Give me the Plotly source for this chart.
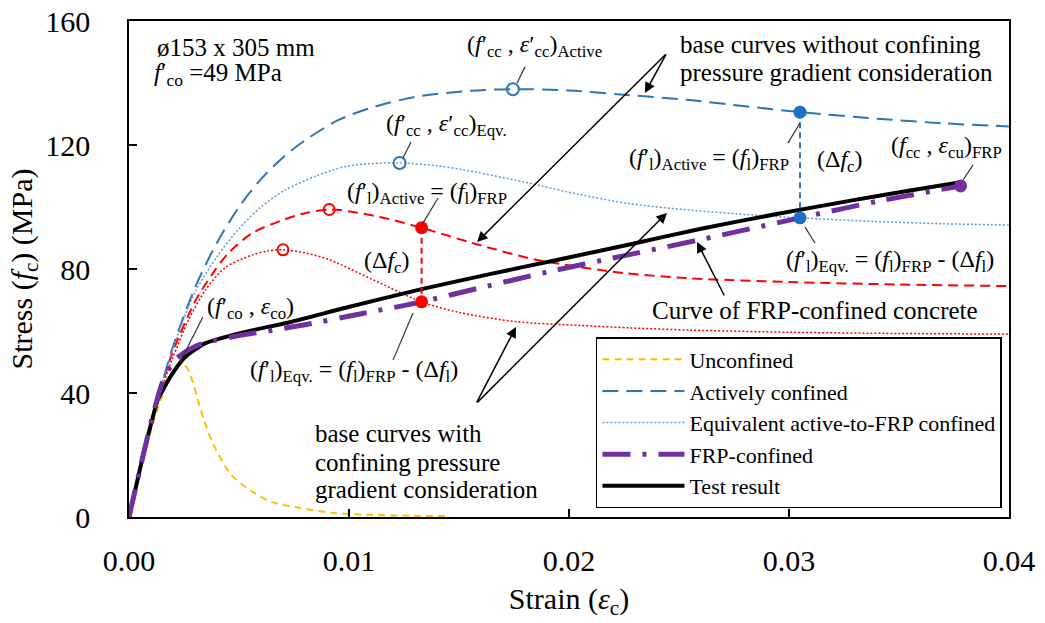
import plotly.graph_objects as go

# ---- stress-strain data (strain, stress in MPa) ----
unconf_strain = [0, 0.0005, 0.001, 0.0015, 0.002, 0.0023, 0.0026, 0.0029, 0.0031, 0.0034, 0.0038,
                 0.0046, 0.0055, 0.0065, 0.0078, 0.0093, 0.011, 0.0128, 0.0146]
unconf_stress = [0, 14.5, 28, 39, 47, 49.3, 48.5, 43.5, 38.5, 31.5, 24, 14, 8.7, 4.8, 2.9, 1.3, 0.7, 0.4, 0.3]

active_strain = [0, 0.0005, 0.001, 0.0015, 0.002, 0.003, 0.004, 0.005, 0.006, 0.007, 0.008, 0.0095,
                 0.011, 0.013, 0.0155, 0.01745, 0.020, 0.0225, 0.0255, 0.028, 0.0305, 0.034, 0.037, 0.04]
active_stress = [0, 15.5, 30, 43, 55, 74, 88.5, 100, 109, 116, 121.5, 128, 132, 135.5, 137.5, 138,
                 137.6, 136.2, 134.5, 132.5, 130.6, 128.5, 127, 126]

eqv_strain = [0, 0.0005, 0.001, 0.0015, 0.002, 0.003, 0.004, 0.005, 0.006, 0.0071, 0.0085, 0.0098,
              0.011, 0.0123, 0.014, 0.0152, 0.018, 0.0205, 0.0228, 0.0255, 0.028, 0.0305, 0.034, 0.037, 0.04]
eqv_stress = [0, 15.5, 30, 43, 54.5, 72.5, 84, 93, 100, 105.5, 110, 113, 114, 114.2, 113.3, 112,
              108, 104, 101, 99, 97.6, 96.5, 95.3, 94.6, 94.2]

active_grad_strain = [0, 0.0005, 0.001, 0.0015, 0.002, 0.003, 0.0038, 0.0045, 0.0056, 0.007, 0.008,
                      0.0091, 0.0096, 0.0114, 0.0133, 0.0156, 0.0185, 0.0225, 0.0255, 0.03, 0.035, 0.04]
active_grad_stress = [0, 15.5, 30, 42.5, 53.5, 69.5, 78.5, 85, 91.6, 95.8, 98, 99.2, 99, 96.8, 93.3,
                      88.4, 83, 78.7, 77, 75.8, 75, 74.5]

eqv_grad_strain = [0, 0.0005, 0.001, 0.0015, 0.002, 0.0027, 0.0035, 0.0044, 0.0056, 0.0063, 0.007,
                   0.008, 0.0091, 0.0111, 0.0133, 0.015, 0.0176, 0.0205, 0.0228, 0.0255, 0.03, 0.035, 0.04]
eqv_grad_stress = [0, 15.5, 29.5, 41.5, 51.5, 63.5, 73.5, 80.6, 84.5, 85.8, 86.2, 85.2, 83, 76.5,
                   69.4, 66, 63, 61.8, 61, 60.3, 59.6, 59.2, 59]

frp_strain = [0, 0.0005, 0.001, 0.0015, 0.002, 0.0025, 0.003, 0.0036, 0.005, 0.008, 0.0105, 0.0133,
              0.016, 0.019, 0.0223, 0.026, 0.0305, 0.034, 0.0378]
frp_stress = [0, 15.5, 30.5, 43, 50, 53, 55, 56.5, 58.5, 62, 65.5, 69.4, 74, 79, 84, 89.5, 96.5,
              101.8, 106.8]

test_strain = [0, 0.0005, 0.0007, 0.001, 0.0013, 0.0015, 0.00195, 0.00255, 0.00345, 0.0051, 0.0074,
               0.0098, 0.0133, 0.0165, 0.0195, 0.0228, 0.026, 0.0295, 0.033, 0.0355, 0.0378]
test_stress = [0, 15.5, 21.6, 30, 37.7, 40.5, 46, 51.6, 56, 59.4, 63, 67.4, 73.5, 78.5, 83, 88, 93,
               97.8, 102.3, 105.3, 108]

# ---- highlighted points ----
peak_open_strain = [0.01745, 0.0123]            # active / equivalent peaks (blue)
peak_open_stress = [138, 114.2]
peak_grad_strain = [0.0091, 0.0070]             # peaks with gradient consideration (red)
peak_grad_stress = [99.2, 86.2]
red_pair_strain = [0.0133, 0.0133]
red_pair_stress = [93.3, 69.4]
blue_pair_strain = [0.0305, 0.0305]
blue_pair_stress = [130.6, 96.5]
ult_strain = [0.0378]
ult_stress = [106.8]

BLUE = "#2E75B6"
BLUE_LT = "#5B9BD5"
RED = "#FF0000"
GOLD = "#FFC000"
PURPLE = "#7030A0"
FONT = "Liberation Serif"

fig = go.Figure()

# curves without legend entries (gradient consideration)
fig.add_trace(go.Scatter(x=active_grad_strain, y=active_grad_stress, mode="lines", showlegend=False,
                         line=dict(color=RED, width=2, dash="10px,6px", shape="spline", smoothing=0.8)))
fig.add_trace(go.Scatter(x=eqv_grad_strain, y=eqv_grad_stress, mode="lines", showlegend=False,
                         line=dict(color=RED, width=1.5, dash="2px,2px", shape="spline", smoothing=0.8)))

# legend curves
fig.add_trace(go.Scatter(x=unconf_strain, y=unconf_stress, mode="lines", name="Unconfined",
                         line=dict(color=GOLD, width=2, dash="7px,5px", shape="spline", smoothing=0.8)))
fig.add_trace(go.Scatter(x=active_strain, y=active_stress, mode="lines", name="Actively confined",
                         line=dict(color=BLUE, width=2, dash="16px,8px", shape="spline", smoothing=0.8)))
fig.add_trace(go.Scatter(x=eqv_strain, y=eqv_stress, mode="lines", name="Equivalent active-to-FRP confined",
                         line=dict(color=BLUE_LT, width=1.5, dash="2px,2px", shape="spline", smoothing=0.8)))
fig.add_trace(go.Scatter(x=test_strain, y=test_stress, mode="lines", name="Test result",
                         line=dict(color="black", width=4, shape="spline", smoothing=0.6)))
fig.add_trace(go.Scatter(x=frp_strain, y=frp_stress, mode="lines", name="FRP-confined",
                         line=dict(color=PURPLE, width=5, dash="28px,12px,4px,12px", shape="spline",
                                   smoothing=0.6)))

# vertical differences between base curves
fig.add_trace(go.Scatter(x=red_pair_strain, y=red_pair_stress, mode="lines", showlegend=False,
                         line=dict(color=RED, width=2, dash="6px,4px")))
fig.add_trace(go.Scatter(x=blue_pair_strain, y=blue_pair_stress, mode="lines", showlegend=False,
                         line=dict(color=BLUE, width=2, dash="6px,4px")))

# markers
fig.add_trace(go.Scatter(x=peak_open_strain, y=peak_open_stress, mode="markers", showlegend=False,
                         marker=dict(symbol="circle-open", size=12, color=BLUE, line=dict(width=2))))
fig.add_trace(go.Scatter(x=peak_grad_strain, y=peak_grad_stress, mode="markers", showlegend=False,
                         marker=dict(symbol="circle-open", size=11, color=RED, line=dict(width=2))))
fig.add_trace(go.Scatter(x=red_pair_strain, y=red_pair_stress, mode="markers", showlegend=False,
                         marker=dict(size=13, color=RED)))
fig.add_trace(go.Scatter(x=blue_pair_strain, y=blue_pair_stress, mode="markers", showlegend=False,
                         marker=dict(size=13, color="#1F6FC0")))
fig.add_trace(go.Scatter(x=ult_strain, y=ult_stress, mode="markers", showlegend=False,
                         marker=dict(size=13, color=PURPLE)))

# legend order: Unconfined, Active, Equivalent, FRP, Test
order = {"Unconfined": 1, "Actively confined": 2, "Equivalent active-to-FRP confined": 3,
         "FRP-confined": 4, "Test result": 5}
for tr in fig.data:
    if tr.name in order:
        tr.legendrank = order[tr.name]


# ---- text labels ----
def label(x, y, text, xanchor="center", size=25):
    fig.add_annotation(x=x, y=y, text=text, showarrow=False, xanchor=xanchor, yanchor="middle",
                       font=dict(family=FONT, size=size, color="black"))


label(0.00118, 151.3, "ø153 x 305 mm", "left")
label(0.00105, 142.6, "<i>f</i>′<sub>co</sub> =49 MPa", "left")
label(0.01845, 152.0, "(<i>f</i>′<sub>cc</sub> , <i>ε</i>′<sub>cc</sub>)<sub>Active</sub>", size=24)
label(0.01441, 126.3, "(<i>f</i>′<sub>cc</sub> , <i>ε</i>′<sub>cc</sub>)<sub>Eqv.</sub>", size=24)
label(0.01355, 104.6, "(<i>f</i>′<sub>l</sub>)<sub>Active</sub> = (<i>f</i><sub>l</sub>)<sub>FRP</sub>", size=24)
label(0.01173, 82.3, "(Δ<i>f</i><sub>c</sub>)", size=24)
label(0.01023, 47.2,
      "(<i>f</i>′<sub>l</sub>)<sub>Eqv.</sub> = (<i>f</i><sub>l</sub>)<sub>FRP</sub> - (Δ<i>f</i><sub>l</sub>)",
      size=24)
label(0.0055, 67.4, "(<i>f</i>′<sub>co</sub> , <i>ε</i><sub>co</sub>)", size=24)
label(0.02495, 152.3, "base curves without confining", "left")
label(0.02495, 143.5, "pressure gradient consideration", "left")
label(0.02636, 115.6, "(<i>f</i>′<sub>l</sub>)<sub>Active</sub> = (<i>f</i><sub>l</sub>)<sub>FRP</sub>", size=24)
label(0.03232, 114.8, "(Δ<i>f</i><sub>c</sub>)", size=24)
label(0.03714, 119.2, "(<i>f</i><sub>cc</sub> , <i>ε</i><sub>cu</sub>)<sub>FRP</sub>", size=24)
label(0.03459, 82.7,
      "(<i>f</i>′<sub>l</sub>)<sub>Eqv.</sub> = (<i>f</i><sub>l</sub>)<sub>FRP</sub> - (Δ<i>f</i><sub>l</sub>)",
      size=24)
label(0.03118, 66.5, "Curve of FRP-confined concrete")
label(0.00836, 26.8, "base curves with", "left")
label(0.00836, 17.7, "confining pressure", "left")
label(0.00836, 9.0, "gradient consideration", "left")

# ---- leader lines from labels to points ----
leaders = [
    ((0.0180, 145.2), (0.01764, 140.0)),
    ((0.01282, 121.0), (0.01245, 115.8)),
    ((0.01405, 102.9), (0.01336, 94.8)),
    ((0.01291, 65.8), (0.01200, 50.6)),
    ((0.00336, 64.5), (0.00232, 50.0)),
    ((0.02995, 120.6), (0.0305, 127.1)),
    ((0.03836, 113.5), (0.03791, 108.7)),
    ((0.03073, 93.5), (0.03118, 88.4)),
]
for (x0, y0), (x1, y1) in leaders:
    fig.add_shape(type="line", x0=x0, y0=y0, x1=x1, y1=y1, xref="x", yref="y",
                  line=dict(color="#333333", width=1.2))

# ---- arrows (head in data coords, tail offset in px) ----
arrows = [
    (0.02345, 136.8, 22, -40),
    (0.01582, 88.7, 190, -189),
    (0.01759, 61.3, -40, 77),
    (0.02445, 98.1, -191, 191),
    (0.02582, 88.7, 28, 55),
]
for x, y, ax, ay in arrows:
    fig.add_annotation(x=x, y=y, ax=ax, ay=ay, text="", showarrow=True, arrowhead=2,
                       arrowsize=1.4, arrowwidth=1.5, arrowcolor="black")

axis_common = dict(showline=True, linecolor="black", linewidth=1.5, mirror=True, ticks="inside",
                   ticklen=8, tickwidth=1.5, tickcolor="black", showgrid=False, zeroline=False,
                   tickfont=dict(family=FONT, size=30, color="black"))

fig.update_xaxes(range=[0, 0.04], dtick=0.01, tickformat=".2f", ticklabelstandoff=16,
                 title=dict(text="Strain (<i>ε</i><sub>c</sub>)", font=dict(family=FONT, size=30, color="black"),
                            standoff=12),
                 **axis_common)
fig.update_yaxes(range=[0, 160], dtick=40, ticklabelstandoff=31,
                 title=dict(text="Stress (<i>f</i><sub>c</sub>) (MPa)",
                            font=dict(family=FONT, size=30, color="black"), standoff=4),
                 **axis_common)

fig.update_layout(
    width=1045, height=623,
    margin=dict(l=129, r=36, t=21, b=106, autoexpand=False),
    paper_bgcolor="white", plot_bgcolor="white",
    font=dict(family=FONT, color="black"),
    legend=dict(x=0.992, y=0.018, xanchor="right", yanchor="bottom", bgcolor="white",
                bordercolor="black", borderwidth=1.5, font=dict(family=FONT, size=22, color="black"),
                itemwidth=82, tracegroupgap=0, traceorder="normal"),
)

fig.write_html("out.html")
